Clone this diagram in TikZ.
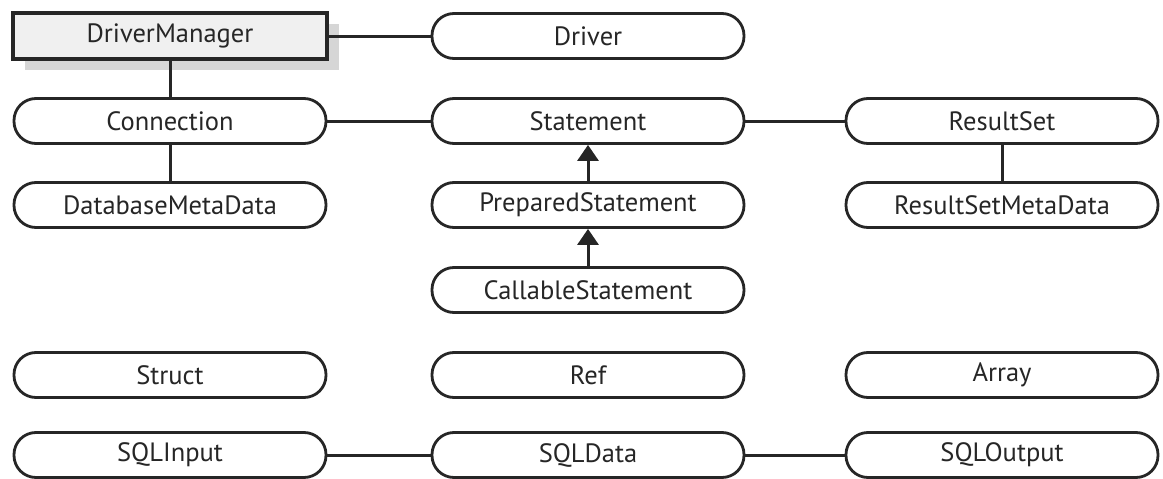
\documentclass[tikz,border=0pt]{standalone}
\usepackage{fontspec}
\setmainfont{PT Sans}
\usetikzlibrary{arrows.meta,shadows}

\begin{document}
\begin{tikzpicture}[x=1pt,y=-1pt]
\tikzstyle{every node}+=[font=\fontsize{26.5}{30}\selectfont, text=black!85]
\tikzstyle{iface}=[draw=black!85, line width=2.8pt, fill=white, rounded corners=22pt,
  minimum width=312pt, minimum height=45pt, inner sep=0pt]
\tikzstyle{mgr}=[draw=black!85, line width=3.2pt, fill=gray!12,
  minimum width=314pt, minimum height=46pt, inner sep=0pt,
  drop shadow={shadow xshift=12pt, shadow yshift=-11pt, fill=gray!40, opacity=0.8}]
\tikzstyle{link}=[black!85, line width=3pt]
\tikzstyle{isa}=[black!85, line width=3pt, -{Triangle[length=16pt,width=21pt]}]
\useasboundingbox (0,0) rectangle (1163,479);
% nodes
\node[mgr] (dm) at (170,36) {DriverManager};
\node[iface] (drv) at (588,36) {Driver};
\node[iface] (con) at (170,121) {Connection};
\node[iface] (stmt) at (588,121) {Statement};
\node[iface] (rs) at (1002,121) {ResultSet};
\node[iface] (dbmd) at (170,205) {DatabaseMetaData};
\node[iface] (pstmt) at (588,205) {PreparedStatement};
\node[iface] (rsmd) at (1002,205) {ResultSetMetaData};
\node[iface] (cstmt) at (588,290) {CallableStatement};
\node[iface] (struct) at (170,375) {Struct};
\node[iface] (ref) at (588,375) {Ref};
\node[iface] (arr) at (1002,375) {Array};
\node[iface] (sqlin) at (170,455) {SQLInput};
\node[iface] (sqldata) at (588,455) {SQLData};
\node[iface] (sqlout) at (1002,455) {SQLOutput};
% connectors
\draw[link] (dm) -- (drv);
\draw[link] (dm) -- (con);
\draw[link] (con) -- (stmt);
\draw[link] (stmt) -- (rs);
\draw[link] (con) -- (dbmd);
\draw[link] (rs) -- (rsmd);
\draw[isa] (pstmt) -- (stmt);
\draw[isa] (cstmt) -- (pstmt);
\draw[link] (sqlin) -- (sqldata);
\draw[link] (sqldata) -- (sqlout);
\end{tikzpicture}
\end{document}
